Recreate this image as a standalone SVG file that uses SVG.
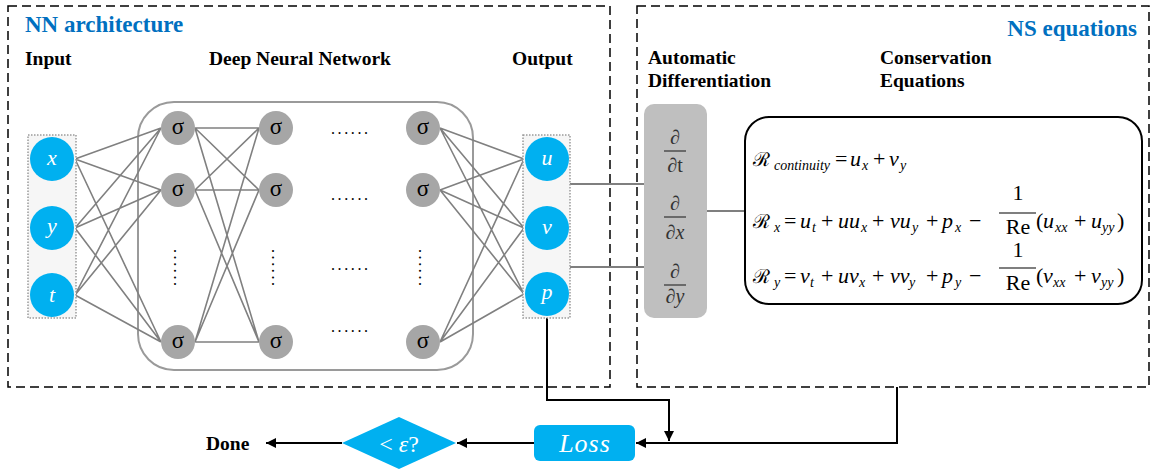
<svg xmlns="http://www.w3.org/2000/svg" width="1154" height="470" viewBox="0 0 1154 470">
<defs>
<marker id="arr" viewBox="0 0 10 10" refX="10" refY="5" markerWidth="5" markerHeight="5" orient="auto" markerUnits="strokeWidth"><path d="M0,0 L10,5 L0,10 z" fill="#000"/></marker>
<style>
.dash{fill:none;stroke:#000;stroke-width:1.5;stroke-dasharray:9 5}
.lbl{font-family:"Liberation Serif",serif;font-weight:bold;font-size:19.5px;fill:#000}
.ttl{font-family:"Liberation Serif",serif;font-weight:bold;font-size:23px;fill:#0070C0}
.blue{fill:#00B0F0}
.sig{fill:#A6A6A6}
.st{font-family:"Liberation Serif",serif;font-size:23px;fill:#000;text-anchor:middle}
.it{font-family:"Liberation Serif",serif;font-style:italic;font-size:22px;fill:#fff;text-anchor:middle}
.w{stroke:#808080;stroke-width:1.6;fill:none}
.eq{font-family:"Liberation Serif","DejaVu Serif",serif;font-size:22px;fill:#000}
.R{font-size:19.5px}
.i{font-style:italic}
.sub{font-size:14px;font-style:italic}
.dots{font-family:"Liberation Serif",serif;font-size:16px;letter-spacing:2.6px;fill:#000}
.conn{fill:none;stroke:#000;stroke-width:2}
.gl{stroke:#7f7f7f;stroke-width:2;fill:none}
.dr{fill:#f6f6f6;stroke:#9a9a9a;stroke-width:1.5;stroke-dasharray:1.5 1.5}
.pd{font-family:"Liberation Serif","DejaVu Serif",serif;font-size:20px;fill:#333;text-anchor:middle}
</style>
</defs>

<g id="nn-architecture-box">
<rect class="dash" x="8" y="6" width="602" height="381"/>
<text class="ttl" x="25" y="32">NN architecture</text>
<text class="lbl" x="25" y="65">Input</text>
<text class="lbl" x="209" y="65">Deep Neural Network</text>
<text class="lbl" x="512" y="65">Output</text>
</g>

<g id="ns-equations-box">
<rect class="dash" x="637" y="6" width="512" height="381"/>
<text class="ttl" x="1137" y="36" text-anchor="end">NS equations</text>
<text class="lbl" x="648" y="64">Automatic</text>
<text class="lbl" x="648" y="87">Differentiation</text>
<text class="lbl" x="880" y="64">Conservation</text>
<text class="lbl" x="880" y="87">Equations</text>
</g>

<g id="hidden-layer-frame">
<rect x="138" y="102" width="335" height="268" rx="36" fill="none" stroke="#9a9a9a" stroke-width="2"/>
</g>

<g id="connectors">
<path class="w" d="M75,159 L161,128 M75,159 L161,190 M75,159 L161,342 M75,228 L161,128 M75,228 L161,190 M75,228 L161,342 M75,295 L161,128 M75,295 L161,190 M75,295 L161,342"/>
<path class="w" d="M195,128 L259,128 M195,128 L259,190 M195,128 L259,342 M195,190 L259,128 M195,190 L259,190 M195,190 L259,342 M195,342 L259,128 M195,342 L259,190 M195,342 L259,342"/>
<path class="w" d="M440,128 L524,159 M440,128 L524,228 M440,128 L524,294 M440,190 L524,159 M440,190 L524,228 M440,190 L524,294 M440,342 L524,159 M440,342 L524,228 M440,342 L524,294"/>
<path class="gl" d="M570,184 L644,184 M570,267 L644,267 M707,211 L745,211"/>
<path class="conn" d="M547,318 L547,400 L669,400 L669,441" marker-end="url(#arr)"/>
<path class="conn" d="M897,387 L897,443 L636,443" marker-end="url(#arr)"/>
<path class="conn" d="M534,443 L457,443" marker-end="url(#arr)"/>
<path class="conn" d="M342,443 L266,443" marker-end="url(#arr)"/>
</g>

<g id="input-layer">
<rect class="dr" x="28" y="135" width="48" height="183"/>
<circle class="blue" cx="52" cy="159" r="22"/>
<circle class="blue" cx="52" cy="228" r="22"/>
<circle class="blue" cx="52" cy="295" r="22"/>
<text class="it" x="52" y="165">x</text>
<text class="it" x="52" y="233">y</text>
<text class="it" x="52" y="302">t</text>
</g>

<g id="output-layer">
<rect class="dr" x="523" y="135" width="47" height="183"/>
<circle class="blue" cx="547" cy="159" r="22"/>
<circle class="blue" cx="547" cy="228" r="22"/>
<circle class="blue" cx="547" cy="294" r="22"/>
<text class="it" x="547" y="165">u</text>
<text class="it" x="547" y="234">v</text>
<text class="it" x="547" y="299">p</text>
</g>

<g id="hidden-col1">
<circle class="sig" cx="178" cy="128" r="17"/>
<circle class="sig" cx="178" cy="190" r="17"/>
<circle class="sig" cx="178" cy="342" r="17"/>
<text class="st" x="178" y="134">σ</text>
<text class="st" x="178" y="196">σ</text>
<text class="st" x="178" y="348">σ</text>
<text class="dots" transform="translate(174,249) rotate(90)">......</text>
</g>

<g id="hidden-col2">
<circle class="sig" cx="276" cy="128" r="17"/>
<circle class="sig" cx="276" cy="190" r="17"/>
<circle class="sig" cx="276" cy="342" r="17"/>
<text class="st" x="276" y="134">σ</text>
<text class="st" x="276" y="196">σ</text>
<text class="st" x="276" y="348">σ</text>
<text class="dots" transform="translate(272,249) rotate(90)">......</text>
</g>

<g id="hidden-dots">
<text class="dots" x="331" y="134">......</text>
<text class="dots" x="331" y="200">......</text>
<text class="dots" x="331" y="270">......</text>
<text class="dots" x="331" y="332">......</text>
</g>

<g id="hidden-col3">
<circle class="sig" cx="423" cy="128" r="17"/>
<circle class="sig" cx="423" cy="190" r="17"/>
<circle class="sig" cx="423" cy="342" r="17"/>
<text class="st" x="423" y="134">σ</text>
<text class="st" x="423" y="196">σ</text>
<text class="st" x="423" y="348">σ</text>
<text class="dots" transform="translate(419,249) rotate(90)">......</text>
</g>

<g id="automatic-differentiation">
<rect x="644" y="104" width="63" height="214" rx="10" fill="#BFBFBF"/>
<text class="pd" x="675" y="144">∂</text>
<line x1="664" y1="151" x2="686" y2="151" stroke="#333" stroke-width="1.2"/>
<text class="pd" x="675" y="172">∂t</text>
<text class="pd" x="675" y="210">∂</text>
<line x1="664" y1="217" x2="686" y2="217" stroke="#333" stroke-width="1.2"/>
<text class="pd" x="675" y="239"><tspan>∂</tspan><tspan class="i">x</tspan></text>
<text class="pd" x="675" y="278">∂</text>
<line x1="664" y1="285" x2="686" y2="285" stroke="#333" stroke-width="1.2"/>
<text class="pd" x="675" y="303"><tspan>∂</tspan><tspan class="i">y</tspan></text>
</g>

<g id="conservation-equations">
<rect x="745" y="117" width="397" height="187" rx="24" fill="#fff" stroke="#000" stroke-width="2"/>
<text class="eq"><tspan class="R" x="753" y="166">ℛ</tspan><tspan class="sub" x="774" y="170">continuity</tspan><tspan x="835" y="166">=</tspan><tspan class="i" x="850" y="166">u</tspan><tspan class="sub" x="862" y="170">x</tspan><tspan x="873" y="166">+</tspan><tspan class="i" x="889" y="166">v</tspan><tspan class="sub" x="900" y="170">y</tspan></text>
<text class="eq"><tspan class="R" x="753" y="228">ℛ</tspan><tspan class="sub" x="774" y="232">x</tspan><tspan x="784" y="228">=</tspan><tspan class="i" x="800" y="228">u</tspan><tspan class="sub" x="812" y="232">t</tspan><tspan x="821" y="228">+</tspan><tspan class="i" x="838" y="228">uu</tspan><tspan class="sub" x="861" y="232">x</tspan><tspan x="872" y="228">+</tspan><tspan class="i" x="890" y="228">vu</tspan><tspan class="sub" x="912" y="232">y</tspan><tspan x="926" y="228">+</tspan><tspan class="i" x="942" y="228">p</tspan><tspan class="sub" x="955" y="232">x</tspan><tspan x="969" y="228">−</tspan></text>
<text class="eq" x="1018" y="200" text-anchor="middle">1</text>
<line x1="999" y1="213" x2="1036" y2="213" stroke="#000" stroke-width="1.2"/>
<text class="eq" x="1018" y="234" text-anchor="middle">Re</text>
<text class="eq"><tspan x="1036" y="228">(</tspan><tspan class="i" x="1043" y="228">u</tspan><tspan class="sub" x="1055" y="232">xx</tspan><tspan x="1074" y="228">+</tspan><tspan class="i" x="1091" y="228">u</tspan><tspan class="sub" x="1102" y="232">yy</tspan><tspan x="1117" y="228">)</tspan></text>
<text class="eq"><tspan class="R" x="753" y="283">ℛ</tspan><tspan class="sub" x="774" y="287">y</tspan><tspan x="784" y="283">=</tspan><tspan class="i" x="800" y="283">v</tspan><tspan class="sub" x="810" y="287">t</tspan><tspan x="821" y="283">+</tspan><tspan class="i" x="838" y="283">uv</tspan><tspan class="sub" x="859" y="287">x</tspan><tspan x="872" y="283">+</tspan><tspan class="i" x="890" y="283">vv</tspan><tspan class="sub" x="909" y="287">y</tspan><tspan x="926" y="283">+</tspan><tspan class="i" x="942" y="283">p</tspan><tspan class="sub" x="955" y="287">y</tspan><tspan x="969" y="283">−</tspan></text>
<text class="eq" x="1018" y="257" text-anchor="middle">1</text>
<line x1="999" y1="268" x2="1036" y2="268" stroke="#000" stroke-width="1.2"/>
<text class="eq" x="1018" y="290" text-anchor="middle">Re</text>
<text class="eq"><tspan x="1036" y="283">(</tspan><tspan class="i" x="1043" y="283">v</tspan><tspan class="sub" x="1053" y="287">xx</tspan><tspan x="1074" y="283">+</tspan><tspan class="i" x="1091" y="283">v</tspan><tspan class="sub" x="1101" y="287">yy</tspan><tspan x="1117" y="283">)</tspan></text>
</g>

<g id="loss">
<rect x="534" y="425" width="101" height="36" rx="6" class="blue"/>
<text x="585" y="452" text-anchor="middle" font-family="Liberation Serif, serif" font-style="italic" font-size="26" letter-spacing="1" fill="#fff">Loss</text>
</g>

<g id="convergence-check">
<polygon points="342,443 399,417 456,443 399,469" class="blue"/>
<text x="399" y="452" text-anchor="middle" font-family="Liberation Serif, serif" font-size="24" fill="#fff">&lt; <tspan font-style="italic">ε</tspan>?</text>
</g>

<g id="done">
<text class="lbl" x="206" y="450">Done</text>
</g>
</svg>
